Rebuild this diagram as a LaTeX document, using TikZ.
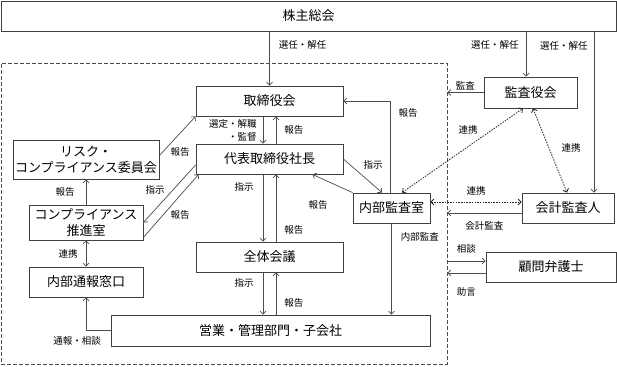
\documentclass[tikz,border=0pt]{standalone}
\usepackage{fontspec}
\setmainfont{Noto Sans CJK JP}
\usetikzlibrary{arrows.meta}

\begin{document}
\begin{tikzpicture}[x=1pt, y=-1pt, >={Straight Barb[length=3pt,width=6pt]},
    box/.style={draw=black!75, line width=0.8pt, inner sep=0pt, align=center, font=\fontsize{13}{16}\selectfont},
    lbl/.style={inner sep=1pt, align=right, font=\fontsize{9.5}{13}\selectfont},
    arr/.style={->, draw=black!70, line width=0.7pt},
    both/.style={<->, draw=black!70, line width=0.7pt},
    link/.style={<->, draw=black!85, line width=0.8pt, dash pattern=on 1.5pt off 1.2pt},
    groupframe/.style={draw=black!70, line width=0.7pt, dash pattern=on 4pt off 2pt}]

    \useasboundingbox (0,0) rectangle (617,366);

    % Define boxes with coordinates
    \node[box, minimum width=615, minimum height=30] (kabunushi) at (308.5,16) {株主総会};
    \node[groupframe, minimum width=446, minimum height=301] (group) at (224,213.5) {};
    \node[box, minimum width=147, minimum height=30] (torishimari) at (269.5,101) {取締役会};
    \node[box, minimum width=147, minimum height=30] (daihyo) at (269.5,159) {代表取締役社長};
    \node[box, minimum width=147, minimum height=30] (zentai) at (269.5,257) {全体会議};
    \node[box, minimum width=319, minimum height=31] (eigyo) at (270.5,330.5) {営業・管理部門・子会社};
    \node[box, minimum width=146, minimum height=39] (risk) at (86,159.5) {リスク・\\コンプライアンス委員会};
    \node[box, minimum width=114, minimum height=35] (suishin) at (86,222.5) {コンプライアンス\\推進室};
    \node[box, minimum width=114, minimum height=30] (tsuho) at (86,282) {内部通報窓口};
    \node[box, minimum width=77, minimum height=30] (naibu) at (391.5,208) {内部監査室};
    \node[box, minimum width=93, minimum height=31] (kansayaku) at (530.5,92.5) {監査役会};
    \node[box, minimum width=92, minimum height=30] (kaikei) at (568,208) {会計監査人};
    \node[box, minimum width=130, minimum height=30] (komon) at (551,267) {顧問弁護士};

    % Shareholders meeting
    \draw[arr] (kabunushi.south -| torishimari.north) -- node[lbl, pos=0.25, right=8pt]{選任・解任} (torishimari.north);
    \draw[arr] ([xshift=-4.5pt]kansayaku.north |- kabunushi.south) -- node[lbl, pos=0.3, left=6pt]{選任・解任} ([xshift=-4.5pt]kansayaku.north);
    \draw[arr] ([xshift=26pt]kaikei.north |- kabunushi.south) -- node[lbl, pos=0.09, left=5pt]{選任・解任} ([xshift=26pt]kaikei.north);
    \draw[arr] (kansayaku.west) -- node[lbl, above=1pt]{監査} (kansayaku.west -| group.east);

    % Board, president, meeting, operations
    \draw[arr] ([xshift=-6.5pt]torishimari.south) -- node[lbl, left=5pt]{選定・解職\\・監督} ([xshift=-6.5pt]daihyo.north);
    \draw[arr] ([xshift=6.5pt]daihyo.north) -- node[lbl, right=7pt]{報告} ([xshift=6.5pt]torishimari.south);
    \draw[arr] ([xshift=-6.5pt]daihyo.south) -- node[lbl, pos=0.18, left=8pt]{指示} ([xshift=-6.5pt]zentai.north);
    \draw[arr] ([xshift=6.5pt]zentai.north) -- node[lbl, pos=0.18, right=7pt]{報告} ([xshift=6.5pt]daihyo.south);
    \draw[arr] ([xshift=-6.5pt]zentai.south) -- node[lbl, pos=0.25, left=8pt]{指示} ([xshift=-6.5pt]zentai.south |- eigyo.north);
    \draw[arr] ([xshift=6.5pt]zentai.south |- eigyo.north) -- node[lbl, pos=0.28, right=7pt]{報告} ([xshift=6.5pt]zentai.south);

    % Compliance side
    \draw[arr] ([yshift=4pt]risk.east) -- (torishimari.south west);
    \node[lbl] (lrisk) at (180,152) {報告};
    \draw[arr] (suishin.north) -- node[lbl, left=10pt]{報告} (risk.south);
    \draw[arr] ([yshift=-6pt]daihyo.west) -- (suishin.east);
    \node[lbl] (lshiji) at (155,190) {指示};
    \draw[arr] ([yshift=3pt]suishin.south east) -- ([xshift=3pt]daihyo.south west);
    \node[lbl] (lhoukoku) at (180,215) {報告};
    \draw[both] (suishin.south) -- node[lbl, left=7pt]{連携} (tsuho.north);
    \draw[arr] (eigyo.west) -| (tsuho.south);
    \node[lbl] (ltsuho) at (77,341) {通報・相談};

    % Internal audit
    \draw[arr] ([xshift=-1.5pt]naibu.north) |- (torishimari.east);
    \node[lbl] (lnaibu) at (408,113) {報告};
    \draw[arr] (daihyo.east) -- ([xshift=-9.5pt]naibu.north);
    \node[lbl] (lnshiji) at (373,165) {指示};
    \draw[arr] (naibu.north west) -- ([xshift=-31pt]daihyo.south east);
    \node[lbl] (lnhoukoku) at (318,205) {報告};
    \draw[arr] (naibu.south) -- node[lbl, pos=0.15, right=8pt]{内部監査} (naibu.south |- eigyo.north);

    % Auditors
    \draw[link] ([xshift=10.5pt]naibu.north) -- ([xshift=-7.5pt]kansayaku.south);
    \node[lbl] (lrenkei1) at (468,130) {連携};
    \draw[link] ([xshift=2.5pt]kansayaku.south) -- ([xshift=-1pt]kaikei.north);
    \node[lbl] (lrenkei2) at (571,148) {連携};
    \draw[link] ([yshift=6pt]naibu.east) -- node[lbl, above=5pt]{連携} ([yshift=6pt]kaikei.west);
    \draw[arr] ([yshift=-5pt]kaikei.west) -- node[lbl, below=7pt]{会計監査} ([yshift=-5pt]kaikei.west -| group.east);

    % Lawyer
    \draw[arr] ([yshift=6pt]komon.west -| group.east) -- node[lbl, above=6pt]{相談} ([yshift=6pt]komon.west);
    \draw[arr] ([yshift=-6pt]komon.west) -- node[lbl, below=13pt]{助言} ([yshift=-6pt]komon.west -| group.east);
\end{tikzpicture}
\end{document}
